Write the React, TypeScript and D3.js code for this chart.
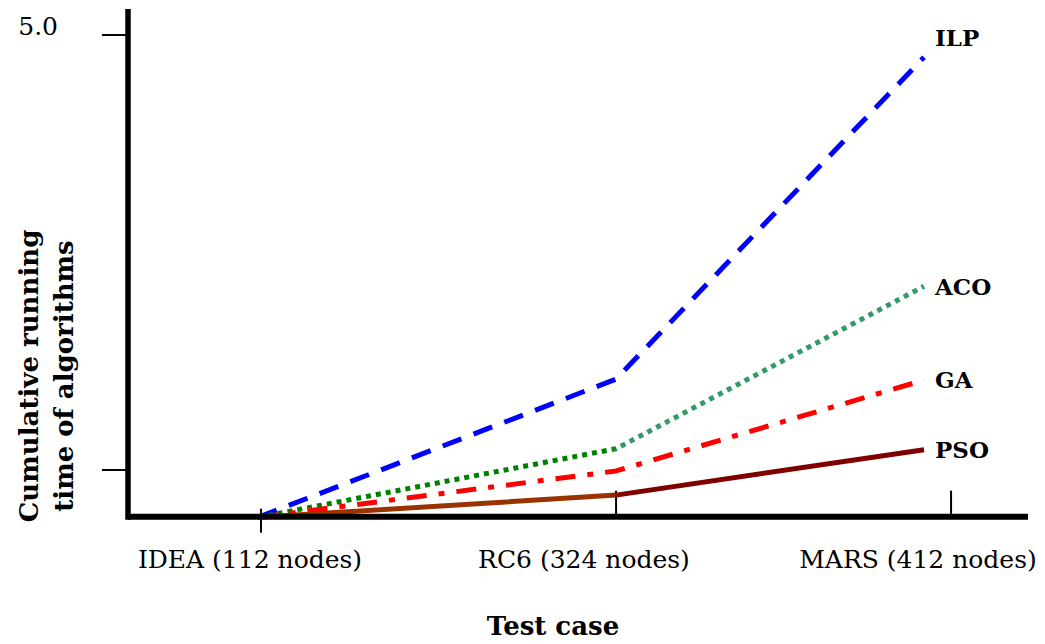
import React from "react";
import * as d3 from "d3";

const categories = ["IDEA (112 nodes)", "RC6 (324 nodes)", "MARS (412 nodes)"];
const labelPos = [0, 1, 2];
const pointPos = [0.024, 1.096, 2.018];
const tickPos = [0.033, 1.096, 2.099];

const seriesNames = ["ILP", "ACO", "GA", "PSO"];
const ilpValues = [0.01, 1.44, 4.77];
const acoValues = [0.01, 0.72, 2.4];
const gaValues = [0.01, 0.49, 1.43];
const psoValues = [0.01, 0.24, 0.71];

const yTickValues = [0.5, 5.0];
const yTickLabels = ["", "5.0"];

const W = 1045;
const H = 644;
const FONT = "'DejaVu Serif', 'Liberation Serif', serif";

export default function App() {
  const x = d3.scaleLinear().domain([0, 2]).range([250, 918]);
  const y = d3.scaleLinear().domain([0, 5]).range([518.3, 35]);
  const line = d3
    .line<number>()
    .x((_, i) => x(pointPos[i]))
    .y((d) => y(d));

  const axisY = y(0) - 1.6;
  const axisX = 128;
  const midX = x(pointPos[1]);

  const series = [
    { name: seriesNames[0], values: ilpValues, stroke: "#0000FF", dash: "20 13", labelDy: -20 },
    { name: seriesNames[1], values: acoValues, stroke: "url(#gAco)", dash: "5 5", labelDy: 0 },
    { name: seriesNames[2], values: gaValues, stroke: "#FF0000", dash: "20 12 6 12", labelDy: 0 },
    { name: seriesNames[3], values: psoValues, stroke: "url(#gPso)", dash: null, labelDy: 0 },
  ];

  return (
    <svg
      width={W}
      height={H}
      style={{ position: "fixed", left: 0, top: 0, background: "#fff" }}
      fontFamily={FONT}
    >
      <defs>
        <linearGradient id="gAco" gradientUnits="userSpaceOnUse" x1={midX - 6} y1={0} x2={midX + 6} y2={0}>
          <stop offset="0" stopColor="#008000" />
          <stop offset="1" stopColor="#339966" />
        </linearGradient>
        <linearGradient id="gPso" gradientUnits="userSpaceOnUse" x1={midX - 6} y1={0} x2={midX + 6} y2={0}>
          <stop offset="0" stopColor="#993300" />
          <stop offset="1" stopColor="#800000" />
        </linearGradient>
      </defs>

      {/* y ticks */}
      {yTickValues.map((v, i) => (
        <g key={"yt" + i}>
          <line x1={axisX - 26} x2={axisX} y1={y(v)} y2={y(v)} stroke="#000" strokeWidth={2} />
          {yTickLabels[i] && (
            <text x={axisX - 70} y={y(v)} textAnchor="end" fontSize={25} dy="-0.02em">
              {yTickLabels[i]}
            </text>
          )}
        </g>
      ))}

      {/* x ticks */}
      {tickPos.map((p, i) => (
        <line
          key={"xt" + i}
          x1={x(p)}
          x2={x(p)}
          y1={i === 0 ? axisY - 8 : axisY - 26}
          y2={i === 0 ? axisY + 16 : axisY}
          stroke="#000"
          strokeWidth={2}
        />
      ))}

      {/* series lines */}
      {series.map((s) => (
        <path
          key={s.name}
          d={line(s.values) || ""}
          fill="none"
          stroke={s.stroke}
          strokeWidth={5}
          strokeDasharray={s.dash || undefined}
          strokeLinejoin="round"
        />
      ))}

      {/* axes */}
      <line x1={axisX} x2={axisX} y1={9} y2={axisY + 3} stroke="#000" strokeWidth={5.5} />
      <line x1={axisX} x2={1028} y1={axisY} y2={axisY} stroke="#000" strokeWidth={6} />

      {/* series labels */}
      {series.map((s) => (
        <text
          key={"l" + s.name}
          x={x(pointPos[2]) + 11}
          y={y(s.values[2]) + s.labelDy}
          dy="0.36em"
          fontSize={23}
          fontWeight="bold"
        >
          {s.name}
        </text>
      ))}

      {/* category labels */}
      {categories.map((c, i) => (
        <text key={c} x={x(labelPos[i])} y={568} textAnchor="middle" fontSize={25}>
          {c}
        </text>
      ))}

      {/* axis titles */}
      <text x={553} y={635} textAnchor="middle" fontSize={26} fontWeight="bold">
        Test case
      </text>
      <text transform="translate(38,376) rotate(-90)" textAnchor="middle" fontSize={26} fontWeight="bold">
        Cumulative running
      </text>
      <text transform="translate(73,376) rotate(-90)" textAnchor="middle" fontSize={26} fontWeight="bold">
        time of algorithms
      </text>
    </svg>
  );
}
